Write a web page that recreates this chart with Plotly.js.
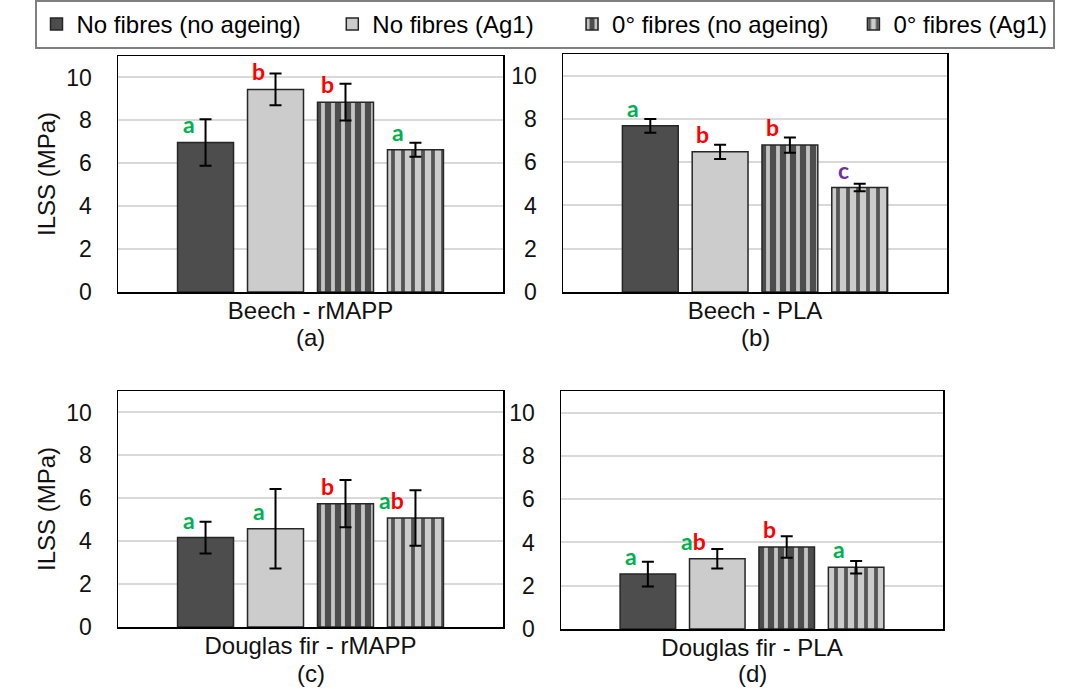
<!DOCTYPE html>
<html>
<head>
<meta charset="utf-8">
<script src="https://cdn.plot.ly/plotly-3.0.1.min.js"></script>
<style>html,body{margin:0;padding:0;background:#fff;}#chart{width:1089px;height:690px;}</style>
</head>
<body>
<div id="chart"></div>
<script>
// ---- data ----
const categories = ["Beech - rMAPP", "Beech - PLA", "Douglas fir - rMAPP", "Douglas fir - PLA"];
const panelTags = ["(a)", "(b)", "(c)", "(d)"];
const seriesNames = ["No fibres (no ageing)", "No fibres (Ag1)", "0\u00b0 fibres (no ageing)", "0\u00b0 fibres (Ag1)"];

const noFibresNoAgeing = [6.97, 7.68, 4.17, 2.54];
const noFibresAg1      = [9.44, 6.48, 4.58, 3.25];
const fibresNoAgeing   = [8.85, 6.79, 5.75, 3.79];
const fibresAg1        = [6.63, 4.83, 5.08, 2.85];

const errNoFibresNoAgeing = [1.08, 0.32, 0.74, 0.57];
const errNoFibresAg1      = [0.74, 0.33, 1.85, 0.45];
const errFibresNoAgeing   = [0.86, 0.35, 1.10, 0.50];
const errFibresAg1        = [0.33, 0.17, 1.29, 0.29];

const lettersNoFibresNoAgeing = ["a", "a", "a", "a"];
const lettersNoFibresAg1      = ["b", "b", "a", "ab"];
const lettersFibresNoAgeing   = ["b", "b", "b", "b"];
const lettersFibresAg1        = ["a", "c", "ab", "a"];

const yTicks = [0, 2, 4, 6, 8, 10];

// ---- styling ----
const values = [noFibresNoAgeing, noFibresAg1, fibresNoAgeing, fibresAg1];
const errors = [errNoFibresNoAgeing, errNoFibresAg1, errFibresNoAgeing, errFibresAg1];
const letters = [lettersNoFibresNoAgeing, lettersNoFibresAg1, lettersFibresNoAgeing, lettersFibresAg1];

// extra legend spacing (non-breaking spaces appended to legend entries)
const legendPad = [4, 5, 3, 0];

const DARK = "#4d4d4d", LIGHT = "#cccccc";
const markers = [
  {color: DARK, line: {color: "#262626", width: 1.5}},
  {color: LIGHT, line: {color: "#262626", width: 1.5}},
  {color: DARK, line: {color: "#262626", width: 1.5},
   pattern: {shape: "|", bgcolor: DARK, fgcolor: "#c4c4c4", size: 10, solidity: 0.38, fillmode: "replace"}},
  {color: LIGHT, line: {color: "#262626", width: 1.5},
   pattern: {shape: "|", bgcolor: LIGHT, fgcolor: "#555555", size: 10, solidity: 0.38, fillmode: "replace"}}
];
const letterColors = {a: "#00b050", b: "#ff0000", c: "#7030a0"};

const FONT = "Liberation Sans, Arial, sans-serif";
const BARGAP = 0.273, BARGROUPGAP = 0.2;

// panel domains (paper fractions)
const W = 1089, H = 690;
const boxes = [
  {x0: 118, x1: 503, y0: 56, y1: 292},
  {x0: 563, x1: 947, y0: 54, y1: 292},
  {x0: 118, x1: 503, y0: 391, y1: 627},
  {x0: 561, x1: 943, y0: 391, y1: 629}
];
const tagShift = [-46, -46, -46, -44];

const traces = [];
const annotations = [];
const layout = {
  width: W, height: H,
  margin: {l: 0, r: 0, t: 0, b: 0},
  paper_bgcolor: "#ffffff", plot_bgcolor: "#ffffff",
  barmode: "group", bargap: BARGAP, bargroupgap: BARGROUPGAP,
  font: {family: FONT, color: "#000000", size: 23},
  showlegend: true,
  legend: {
    orientation: "h", x: 0.5, xanchor: "center", y: 1.0, yanchor: "top",
    bordercolor: "#808080", borderwidth: 2, bgcolor: "#ffffff",
    font: {family: FONT, size: 24, color: "#000"},
    traceorder: "normal"
  }
};

const nS = seriesNames.length;
const groupW = 1 - BARGAP;
const slot = groupW / nS;

categories.forEach((cat, p) => {
  const ax = p === 0 ? "" : String(p + 1);
  const b = boxes[p];
  layout["xaxis" + ax] = {
    domain: [b.x0 / W, b.x1 / W],
    anchor: "y" + ax,
    type: "category",
    range: [-0.5, 0.5],
    showline: true, mirror: true, linecolor: "#000", linewidth: 1.5,
    ticks: "", showgrid: false, zeroline: false,
    ticklabelstandoff: -3,
    tickfont: {family: FONT, size: 24, color: "#111"},
    fixedrange: true
  };
  layout["yaxis" + ax] = {
    domain: [1 - b.y1 / H, 1 - b.y0 / H],
    anchor: "x" + ax,
    range: [0, 11],
    tickvals: yTicks,
    showline: true, mirror: true, linecolor: "#000", linewidth: 1.5,
    showgrid: true, gridcolor: "#d9d9d9", gridwidth: 2, zeroline: false,
    ticks: "", ticklabelstandoff: 20,
    tickfont: {family: FONT, size: 23, color: "#111"},
    title: (p % 2 === 0) ? {text: "ILSS (MPa)", font: {family: FONT, size: 24, color: "#111"}, standoff: 4} : {text: ""},
    fixedrange: true
  };
  annotations.push({
    xref: "x" + ax, yref: "y" + ax + " domain",
    x: cat, y: 0, yanchor: "middle", xanchor: "center", yshift: tagShift[p],
    text: panelTags[p], showarrow: false, borderpad: 0,
    font: {family: FONT, size: 24, color: "#111"}
  });

  for (let s = 0; s < nS; s++) {
    traces.push({
      type: "bar",
      name: seriesNames[s] + "\u00a0".repeat(legendPad[s]),
      legendgroup: "s" + s,
      showlegend: p === 0,
      x: [cat],
      y: [values[s][p]],
      xaxis: "x" + ax, yaxis: "y" + ax,
      marker: markers[s],
      error_y: {type: "data", array: [errors[s][p]], visible: true, color: "#000", thickness: 2, width: 6},
      hoverinfo: "skip"
    });
    const lbl = letters[s][p].split("").map(ch => `<span style="color:${letterColors[ch]}">${ch}</span>`).join("");
    annotations.push({
      xref: "x" + ax, yref: "y" + ax,
      x: -groupW / 2 + slot * (s + 0.5),
      y: values[s][p],
      text: lbl, showarrow: false,
      xanchor: "right", yanchor: "bottom",
      xshift: -9, yshift: 2,
      font: {family: "Lato, Open Sans, sans-serif", size: 23, weight: "bold", color: "#000"}
    });
  }
});
layout.annotations = annotations;

Plotly.newPlot("chart", traces, layout, {displayModeBar: false, staticPlot: true});
</script>
</body>
</html>
